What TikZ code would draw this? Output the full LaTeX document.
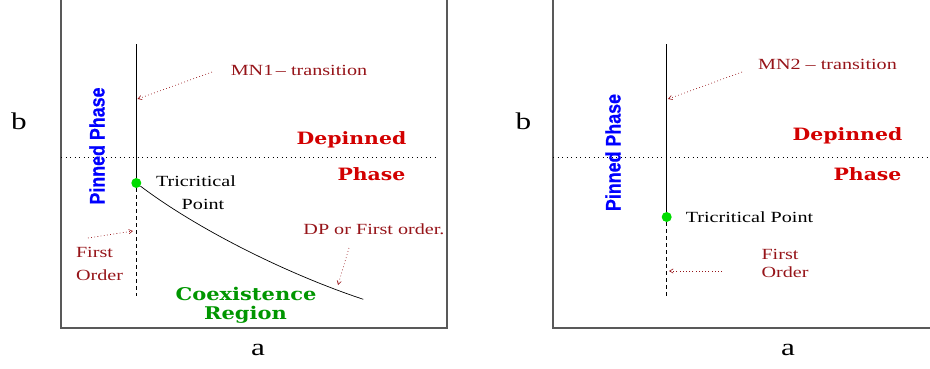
\documentclass[tikz,border=0pt]{standalone}
\usepackage{fontspec}
\setmainfont{Liberation Serif}[FakeStretch=1.3]
\newfontfamily\headfont{DejaVu Serif}[FakeStretch=1.2]
\newfontfamily\pinfont{Liberation Sans}[FakeStretch=0.85, FakeBold=0.6]
\usepackage{tikz}
\usetikzlibrary{arrows}

\definecolor{darkred}{RGB}{150,20,25}
\definecolor{phasered}{RGB}{210,0,0}
\definecolor{coexgreen}{RGB}{0,150,0}
\definecolor{dotgreen}{RGB}{0,220,0}

\tikzset{
  frame/.style={draw=gray!70!black, line width=1.2pt},
  sepline/.style={line width=0.8pt, dash pattern=on 1.2pt off 3.3pt},
  boundary/.style={line width=0.7pt},
  firstorder/.style={line width=0.7pt, dash pattern=on 4pt off 3pt},
  note/.style={text=darkred, inner sep=0pt, font=\fontsize{15.5}{17}\selectfont},
  plain/.style={inner sep=0pt, font=\fontsize{15.5}{17}\selectfont},
  marker/.style={draw=darkred, line width=0.6pt, dash pattern=on 0.8pt off 2.4pt, ->, >=angle 60},
  phase/.style={text=phasered, inner sep=0pt, font=\headfont\bfseries\fontsize{17}{19}\selectfont},
  coex/.style={text=coexgreen, inner sep=0pt, font=\headfont\bfseries\fontsize{17.5}{19}\selectfont},
  pinned/.style={text=blue, rotate=90, inner sep=0pt, font=\pinfont\bfseries\fontsize{21}{23}\selectfont},
  axislabel/.style={inner sep=0pt, font=\fontsize{24}{26}\selectfont},
  tcp/.style={circle, fill=dotgreen, inner sep=0pt, minimum size=10pt}
}

\begin{document}
\begin{tikzpicture}[x=1pt, y=-1pt]
    \useasboundingbox (0,0) rectangle (930,368);

    % left diagram: MN1
    \draw[frame] (61,-5) -- (61,328) -- (447,328) -- (447,-5);
    \node[axislabel] (b1) at (19,121) {b};
    \node[axislabel] (a1) at (258,350) {a};
    \draw[sepline] (61,157) -- (438,157);

    \coordinate (top1) at (136.3,44);
    \coordinate (bot1) at (136.3,296);
    \coordinate (end1) at (363.3,299.3);
    \node[tcp] (tp1) at (136.3,183) {};
    \draw[boundary] (top1) -- (tp1);
    \draw[firstorder] (tp1) -- (bot1);
    \draw[boundary] (tp1) .. controls (200,231) and (290,275) .. (end1);

    \node[pinned] (pin1) at (97,146) {Pinned Phase};
    \node[phase] (dep1) at (351.5,140) {Depinned};
    \node[phase] (ph1) at (371.5,174) {Phase};
    \node[plain] (tri1) at (196,181.5) {Tricritical};
    \node[plain] (pt1) at (203,204) {Point};
    \node[note] (mn1) at (299,70.5) {MN1\,\textendash\ transition};
    \node[note] (fo1) at (94.5,252) {First};
    \node[note] (or1) at (99.5,275) {Order};
    \node[note] (dp1) at (374,229) {DP or First order.};
    \node[coex] (co1) at (246,294) {Coexistence};
    \node[coex] (re1) at (245.5,314.5) {Region};

    \coordinate (mnfrom1) at (212,72);
    \coordinate (mnto1) at (137.5,99);
    \coordinate (fofrom1) at (88,238);
    \coordinate (foto1) at (133,231);
    \coordinate (dpfrom1) at (349,248);
    \coordinate (dpto1) at (338,285);
    \draw[marker] (mnfrom1) -- (mnto1);
    \draw[marker] (fofrom1) -- (foto1);
    \draw[marker] (dpfrom1) -- (dpto1);

    % right diagram: MN2
    \draw[frame] (553,-5) -- (553,328) -- (935,328);
    \node[axislabel] (b2) at (523.5,121) {b};
    \node[axislabel] (a2) at (788,350) {a};
    \draw[sepline] (553,157) -- (930,157);

    \coordinate (top2) at (666.7,44);
    \coordinate (bot2) at (666.7,299);
    \node[tcp] (tp2) at (666.7,217) {};
    \draw[boundary] (top2) -- (tp2);
    \draw[firstorder] (tp2) -- (bot2);

    \node[pinned] (pin2) at (613,152.5) {Pinned Phase};
    \node[phase] (dep2) at (847.5,135.5) {Depinned};
    \node[phase] (ph2) at (867.5,174) {Phase};
    \node[plain] (tri2) at (749.5,217.5) {Tricritical Point};
    \node[note] (mn2) at (827.5,64) {MN2 \textendash\ transition};
    \node[note] (fo2) at (780,254.5) {First};
    \node[note] (or2) at (785,272.5) {Order};

    \coordinate (mnfrom2) at (742,72);
    \coordinate (mnto2) at (668,99);
    \coordinate (fofrom2) at (722,271);
    \coordinate (foto2) at (669,271);
    \draw[marker] (mnfrom2) -- (mnto2);
    \draw[marker] (fofrom2) -- (foto2);

\end{tikzpicture}
\end{document}
